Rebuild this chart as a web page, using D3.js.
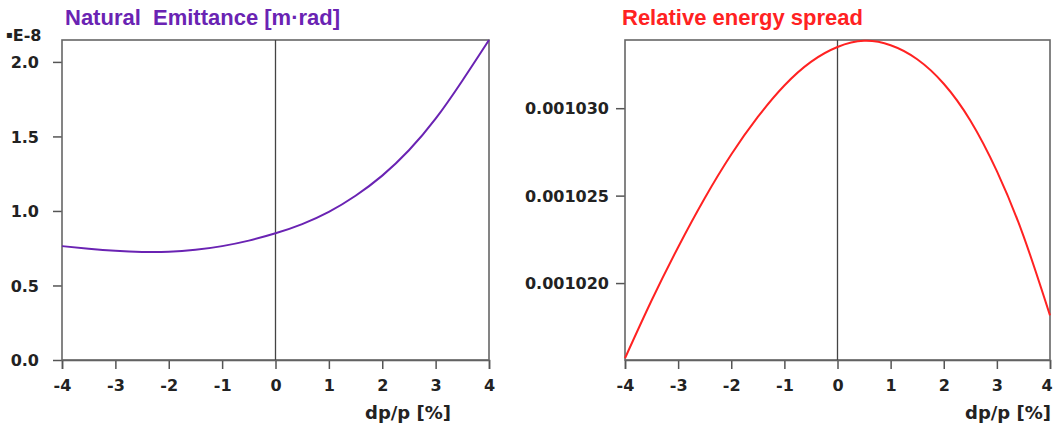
<!DOCTYPE html>
<html>
<head>
<meta charset="utf-8">
<script src="https://d3js.org/d3.v7.min.js"></script>
<style>
    body { margin: 0; background: #fff; }
    .tick text { font-family: "DejaVu Sans", sans-serif; font-weight: bold; font-size: 16px; fill: #222; }
    .title { font-family: "Liberation Sans", Arial, sans-serif; font-weight: bold; font-size: 22px; }
    .xlabel { font-family: "DejaVu Sans", sans-serif; font-weight: bold; font-size: 18px; fill: #222; }
</style>
</head>
<body>
<div id="chart"></div>
<script>
// momentum deviation dp/p [%]
const dpValues = [-4, -3.5, -3, -2.5, -2, -1.5, -1, -0.5, 0, 0.5, 1, 1.5, 2, 2.5, 3, 3.5, 4];
// natural emittance, in units of 1E-8 m.rad
const emittanceValues = [0.764, 0.747, 0.733, 0.725, 0.726, 0.739, 0.764, 0.801, 0.850, 0.912, 0.994, 1.102, 1.237, 1.407, 1.619, 1.874, 2.147];
// relative energy spread
const spreadValues = [0.00101570, 0.00101900, 0.00102205, 0.00102485, 0.00102735, 0.00102950, 0.00103130, 0.00103265, 0.00103350,
                      0.00103385, 0.00103360, 0.00103280, 0.00103140, 0.00102930, 0.00102640, 0.00102270, 0.00101815];

const xTicks = [-4, -3, -2, -1, 0, 1, 2, 3, 4];
const emittanceTicks = [0, 0.5, 1, 1.5, 2];
const spreadTicks = [0.00102, 0.001025, 0.00103];

const svg = d3.select('#chart').append('svg')
    .attr('width', 1053)
    .attr('height', 426);

/**
 * Draws one framed line plot
 */
function DrawPanel(p) {
    let x = d3.scaleLinear().domain([-4, 4]).range([p.left, p.right]);
    let y = d3.scaleLinear().domain(p.yDomain).range([p.bottom, p.top]);

    let g = svg.append('g');

    // x axis along the bottom (plain hyphen for negatives)
    let xAxis = g.append('g')
        .attr('transform', `translate(0, ${p.bottom})`)
        .call(d3.axisBottom(x).tickValues(xTicks).tickSize(9).tickPadding(11).tickFormat(d => String(d)))
        .call(a => a.selectAll('line, path').attr('stroke', '#555').attr('stroke-width', 1.5));

    // keep the last label inside the page
    if (p.lastShift) {
        xAxis.selectAll('.tick text').filter(d => d === 4).attr('dx', p.lastShift);
    }

    // y axis on the left
    g.append('g')
        .attr('transform', `translate(${p.left}, 0)`)
        .call(d3.axisLeft(y).tickValues(p.yTicks).tickSize(9).tickPadding(p.yPad).tickFormat(p.yFormat))
        .call(a => a.select('.domain').remove())
        .call(a => a.selectAll('line').attr('stroke', '#555').attr('stroke-width', 1.5))
        .selectAll('text').attr('dy', '0.36em');

    // frame
    g.append('rect')
        .attr('x', p.left)
        .attr('y', p.top)
        .attr('width', p.right - p.left)
        .attr('height', p.bottom - p.top)
        .attr('fill', 'none')
        .attr('stroke', '#666')
        .attr('stroke-width', 1.6);

    // vertical line at dp/p = 0
    g.append('line')
        .attr('x1', x(0)).attr('x2', x(0))
        .attr('y1', p.top).attr('y2', p.bottom)
        .attr('stroke', '#444')
        .attr('stroke-width', 1.3);

    // the curve
    let line = d3.line()
        .x((d, i) => x(dpValues[i]))
        .y(d => y(d))
        .curve(d3.curveNatural);

    g.append('path')
        .datum(p.values)
        .attr('d', line)
        .attr('fill', 'none')
        .attr('stroke', p.color)
        .attr('stroke-width', 2);

    // title
    g.append('text')
        .attr('class', 'title')
        .attr('x', p.titleX)
        .attr('y', 25)
        .attr('fill', p.color)
        .text(p.title);

    // x label
    g.append('text')
        .attr('class', 'xlabel')
        .attr('x', p.labelX)
        .attr('y', 419)
        .attr('text-anchor', 'end')
        .text('dp/p [%]');
}

DrawPanel({
    left: 62, right: 489, top: 40, bottom: 360,
    yDomain: [0, 2.147],
    yTicks: emittanceTicks,
    yFormat: d3.format('.1f'),
    yPad: 14,
    values: emittanceValues,
    color: '#6a23b3',
    title: 'Natural\u00a0 Emittance [m\u00b7rad]',
    titleX: 65,
    labelX: 451
});

DrawPanel({
    left: 625, right: 1050, top: 40, bottom: 360,
    yDomain: [0.0010156, 0.0010339],
    yTicks: spreadTicks,
    yFormat: d3.format('.6f'),
    yPad: 7,
    values: spreadValues,
    color: '#ff2222',
    title: 'Relative energy spread',
    titleX: 622,
    labelX: 1051,
    lastShift: -3.5
});

// exponent marker for the left y axis
let expo = svg.append('text')
    .attr('x', 6)
    .attr('y', 41)
    .attr('font-family', '"DejaVu Sans", sans-serif')
    .attr('font-weight', 'bold')
    .attr('font-size', '16px')
    .attr('fill', '#222');
expo.append('tspan').attr('font-size', '10px').attr('dy', '-3').text('\u25aa');
expo.append('tspan').attr('dy', '3').text('E-8');
</script>
</body>
</html>
